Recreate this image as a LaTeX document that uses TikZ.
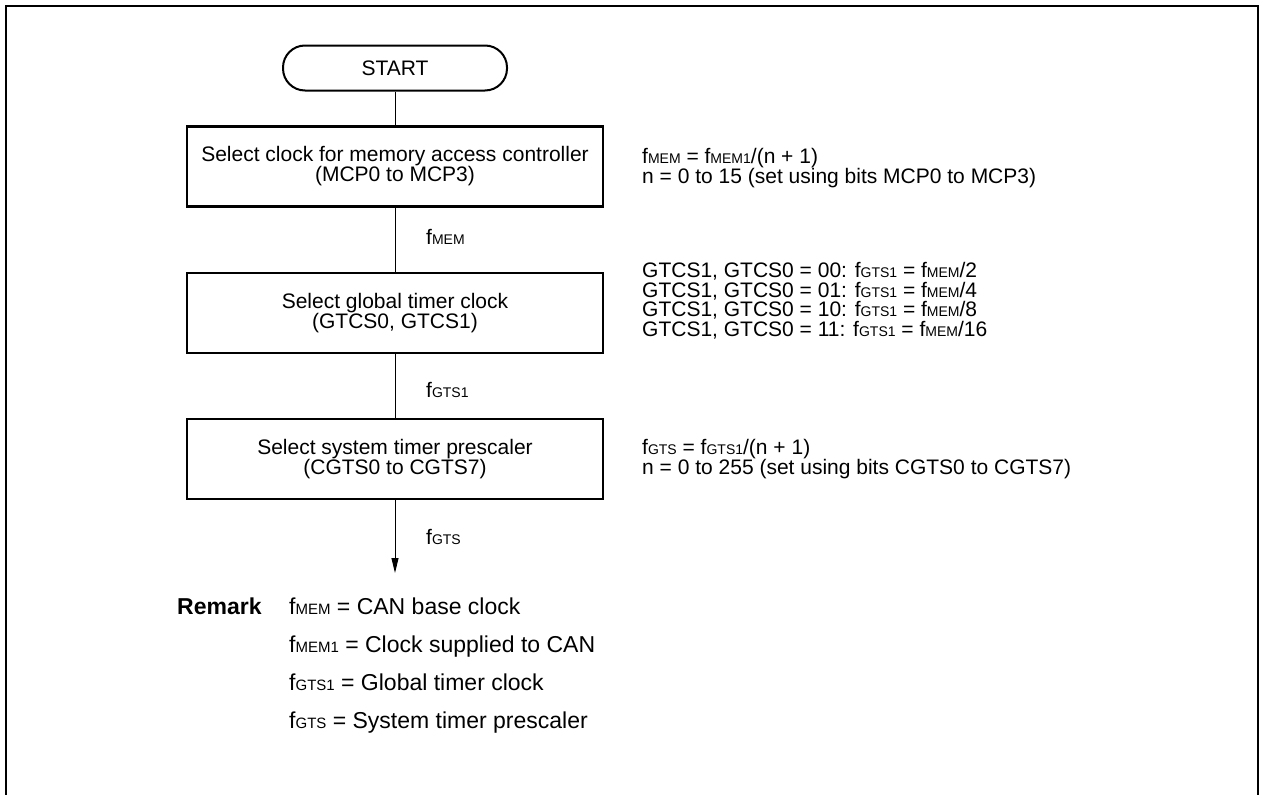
\documentclass[tikz,border=0pt]{standalone}
\usepackage{fontspec}
\setmainfont{Liberation Sans}
\usetikzlibrary{arrows.meta}
\newcommand\sbs[1]{{\fontsize{14}{14}\selectfont #1}}
\newcommand\sbr[1]{{\fontsize{15}{15}\selectfont #1}}
\tikzset{
  procbox/.style={draw, line width=2.4pt, minimum width=416pt, minimum height=80pt, align=center,
    font=\fontsize{21}{20}\selectfont, inner sep=0pt},
  term/.style={draw, line width=2pt, rounded corners=22pt, minimum width=224pt, minimum height=45pt,
    font=\fontsize{21}{21}\selectfont, inner sep=0pt},
  conn/.style={line width=1pt},
  note/.style={anchor=base west, inner sep=0pt, font=\fontsize{21}{21}\selectfont},
  rem/.style={anchor=base west, inner sep=0pt, font=\fontsize{23}{23}\selectfont},
}
\begin{document}
\begin{tikzpicture}[x=1pt,y=-1pt]
\useasboundingbox (0,0) rectangle (1261,795);
\draw[line width=2.5pt] (6,810) -- (6,6) -- (1258,6) -- (1258,810);

\node[term] (start) at (395,68) {START};
\node[procbox] (b1) at (395,166.5) {Select clock for memory access controller\\(MCP0 to MCP3)};
\node[procbox] (b2) at (395,313) {Select global timer clock\\(GTCS0, GTCS1)};
\node[procbox] (b3) at (395,459) {Select system timer prescaler\\(CGTS0 to CGTS7)};
\coordinate (end) at (395,573);

\draw[conn] (start.south) -- (b1.north);
\draw[conn] (b1.south) -- (b2.north);
\draw[conn] (b2.south) -- (b3.north);
\draw[conn, -{Triangle[length=15pt,width=7pt]}] (b3.south) -- (end);

\node[note] (l1) at (426,244) {f\sbs{MEM}};
\node[note] (l2) at (426,397) {f\sbs{GTS1}};
\node[note] (l3) at (426,544) {f\sbs{GTS}};

\node[note] (r11) at (642,163.5) {f\sbs{MEM} = f\sbs{MEM1}/(n + 1)};
\node[note] (r12) at (642,183) {n = 0 to 15 (set using bits MCP0 to MCP3)};

\node[note] (r21) at (642,277.5) {GTCS1, GTCS0 = 00: f\sbs{GTS1} = f\sbs{MEM}/2};
\node[note] (r22) at (642,297) {GTCS1, GTCS0 = 01: f\sbs{GTS1} = f\sbs{MEM}/4};
\node[note] (r23) at (642,316.5) {GTCS1, GTCS0 = 10: f\sbs{GTS1} = f\sbs{MEM}/8};
\node[note] (r24) at (642,336) {GTCS1, GTCS0 = 11: f\sbs{GTS1} = f\sbs{MEM}/16};

\node[note] (r31) at (642,454.5) {f\sbs{GTS} = f\sbs{GTS1}/(n + 1)};
\node[note] (r32) at (642,474) {n = 0 to 255 (set using bits CGTS0 to CGTS7)};

\node[rem, font=\fontsize{23}{23}\selectfont\bfseries] (remark) at (177,614) {Remark};
\node[rem] (m1) at (289,614) {f\sbr{MEM} = CAN base clock};
\node[rem] (m2) at (289,652) {f\sbr{MEM1} = Clock supplied to CAN};
\node[rem] (m3) at (289,690) {f\sbr{GTS1} = Global timer clock};
\node[rem] (m4) at (289,728) {f\sbr{GTS} = System timer prescaler};
\end{tikzpicture}
\end{document}
